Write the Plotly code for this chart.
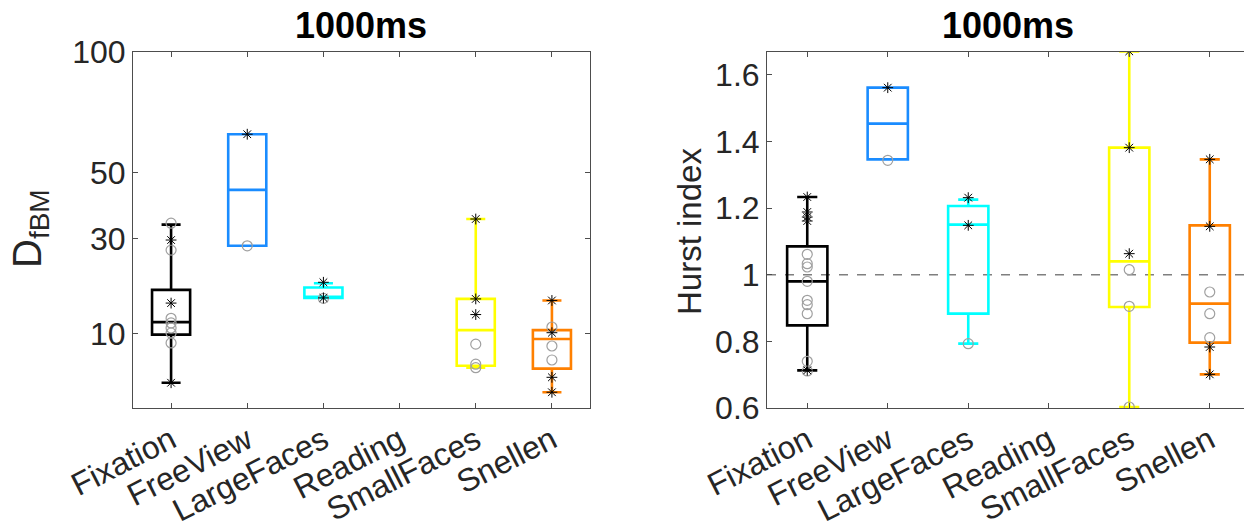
import numpy as np
import plotly.graph_objects as go

categories = ["Fixation", "FreeView", "LargeFaces", "Reading", "SmallFaces", "Snellen"]
colors = {"Fixation": "#000000", "FreeView": "#1a8cff", "LargeFaces": "#00ffff",
          "SmallFaces": "#ffff00", "Snellen": "#ff8000"}

# ---- Left panel: D_fBM (sqrt-scaled axis) ----
d_q1 = {"Fixation": 9.9, "FreeView": 28.1, "LargeFaces": 16.3, "SmallFaces": 5.73, "Snellen": 5.39}
d_med = {"Fixation": 11.9, "FreeView": 44.3, "LargeFaces": 16.3, "SmallFaces": 10.6, "Snellen": 9.25}
d_q3 = {"Fixation": 17.9, "FreeView": 64.1, "LargeFaces": 18.4, "SmallFaces": 16.1, "Snellen": 10.6}
d_lo = {"Fixation": 3.92, "FreeView": 28.1, "LargeFaces": 16.3, "SmallFaces": 5.5, "Snellen": 3.06}
d_hi = {"Fixation": 33.8, "FreeView": 64.1, "LargeFaces": 19.3, "SmallFaces": 35.4, "Snellen": 15.8}
d_star = {"Fixation": [29.6, 15.3, 3.92], "FreeView": [64.1], "LargeFaces": [19.5, 16.3],
          "SmallFaces": [35.4, 16.1, 13.2], "Snellen": [15.8, 10.2, 4.46, 3.06]}
d_circ = {"Fixation": [34.2, 27.0, 12.55, 11.76, 10.94, 10.15, 8.67], "FreeView": [28.1],
          "LargeFaces": [16.2], "SmallFaces": [8.5, 5.9, 5.5], "Snellen": [11.1, 8.24, 6.41]}
d_ticks = [10, 30, 50, 100]
d_range = [1.87, 100]

# ---- Right panel: Hurst index ----
h_q1 = {"Fixation": 0.848, "FreeView": 1.346, "LargeFaces": 0.883, "SmallFaces": 0.903, "Snellen": 0.796}
h_med = {"Fixation": 0.980, "FreeView": 1.453, "LargeFaces": 1.150, "SmallFaces": 1.040, "Snellen": 0.913}
h_q3 = {"Fixation": 1.085, "FreeView": 1.561, "LargeFaces": 1.206, "SmallFaces": 1.381, "Snellen": 1.148}
h_lo = {"Fixation": 0.713, "FreeView": 1.346, "LargeFaces": 0.793, "SmallFaces": 0.603, "Snellen": 0.701}
h_hi = {"Fixation": 1.233, "FreeView": 1.561, "LargeFaces": 1.225, "SmallFaces": 1.670, "Snellen": 1.346}
h_star = {"Fixation": [1.233, 1.188, 1.173, 1.161, 0.713], "FreeView": [1.561],
          "LargeFaces": [1.231, 1.148], "SmallFaces": [1.670, 1.381, 1.063],
          "Snellen": [1.346, 1.145, 0.783, 0.701]}
h_circ = {"Fixation": [1.061, 1.033, 1.023, 0.980, 0.923, 0.910, 0.883, 0.740, 0.711],
          "FreeView": [1.343], "LargeFaces": [0.793], "SmallFaces": [1.015, 0.905, 0.603],
          "Snellen": [0.948, 0.883, 0.811]}
h_ticks = [0.6, 0.8, 1.0, 1.2, 1.4, 1.6]
h_ticklabels = ["0.6", "0.8", "1", "1.2", "1.4", "1.6"]
h_range = [0.6, 1.668]
title_text = "1000ms"

FONT = "Liberation Sans, Arial, sans-serif"
TICKC = "#262626"
AXC = "#4d4d4d"

fig = go.Figure()

def add_panel(q1, med, q3, lo, hi, star, circ, tf, xa, ya):
    for i, c in enumerate(categories):
        if c not in q1:
            continue
        pos = i + 1
        fig.add_trace(go.Box(
            x=[pos], q1=[tf(q1[c])], median=[tf(med[c])], q3=[tf(q3[c])],
            lowerfence=[tf(lo[c])], upperfence=[tf(hi[c])],
            width=0.5, whiskerwidth=0.5, boxpoints=False,
            line=dict(color=colors[c], width=2.6), fillcolor="rgba(0,0,0,0)",
            xaxis=xa, yaxis=ya, showlegend=False, hoverinfo="skip"))
    for i, c in enumerate(categories):
        if c not in circ:
            continue
        pos = i + 1
        fig.add_trace(go.Scatter(
            x=[pos] * len(circ[c]), y=[tf(v) for v in circ[c]], mode="markers",
            marker=dict(symbol="circle-open", size=10, color="#a0a0a0",
                        line=dict(width=1.2, color="#a0a0a0")),
            xaxis=xa, yaxis=ya, showlegend=False, hoverinfo="skip"))
        fig.add_trace(go.Scatter(
            x=[pos] * len(star[c]), y=[tf(v) for v in star[c]], mode="markers",
            marker=dict(symbol="asterisk-open", size=9, color="#000000",
                        line=dict(width=1, color="#000000")),
            xaxis=xa, yaxis=ya, showlegend=False, hoverinfo="skip"))

add_panel(d_q1, d_med, d_q3, d_lo, d_hi, d_star, d_circ, np.sqrt, "x", "y")
add_panel(h_q1, h_med, h_q3, h_lo, h_hi, h_star, h_circ, lambda v: v, "x2", "y2")

W, H = 1244, 529
ydom = [(H - 408) / H, (H - 52) / H]

axis_common = dict(showline=True, linecolor=AXC, linewidth=1, ticks="inside", ticklen=5,
                   tickcolor=AXC, showgrid=False, zeroline=False, automargin=False,
                   tickfont=dict(family=FONT, size=32, color=TICKC))

fig.update_layout(
    width=W, height=H, margin=dict(l=0, r=0, t=0, b=0, pad=0, autoexpand=False),
    paper_bgcolor="white", plot_bgcolor="white", boxmode="overlay",
    xaxis=dict(domain=[133 / W, 590 / W], range=[0.5, 6.5], tickvals=list(range(1, 7)),
               ticktext=categories, tickangle=-27, mirror="ticks", anchor="y", **axis_common),
    yaxis=dict(domain=ydom, range=[float(np.sqrt(d_range[0])), float(np.sqrt(d_range[1]))],
               tickvals=[float(np.sqrt(t)) for t in d_ticks], ticktext=[str(t) for t in d_ticks],
               mirror="ticks", anchor="x", **axis_common),
    xaxis2=dict(domain=[767 / W, 1.0], range=[0.5, 0.5 + (1244 - 767) / 80.5],
                tickvals=list(range(1, 7)), ticktext=categories, tickangle=-27,
                mirror="ticks", anchor="y2", **axis_common),
    yaxis2=dict(domain=ydom, range=h_range, tickvals=h_ticks, ticktext=h_ticklabels,
                mirror=False, anchor="x2", **axis_common),
)

fig.add_shape(type="line", xref="x2 domain", yref="y2", x0=0, x1=1, y0=1, y1=1,
              line=dict(color="#7f7f7f", width=1.5, dash="dash"), layer="below")

fig.add_annotation(text="<b>" + title_text + "</b>", xref="paper", yref="paper",
                   x=361 / W, y=(H - 25) / H, showarrow=False, xanchor="center", yanchor="middle",
                   font=dict(family=FONT, size=36, color="#000000"))
fig.add_annotation(text="<b>" + title_text + "</b>", xref="paper", yref="paper",
                   x=1008 / W, y=(H - 25) / H, showarrow=False, xanchor="center", yanchor="middle",
                   font=dict(family=FONT, size=36, color="#000000"))
fig.add_annotation(text="D<sub>fBM</sub>", xref="paper", yref="paper",
                   x=30 / W, y=(H - 228) / H, showarrow=False, textangle=-90,
                   xanchor="center", yanchor="middle",
                   font=dict(family=FONT, size=40, color=TICKC))
fig.add_annotation(text="Hurst index", xref="paper", yref="paper",
                   x=690 / W, y=(H - 232) / H, showarrow=False, textangle=-90,
                   xanchor="center", yanchor="middle",
                   font=dict(family=FONT, size=33, color=TICKC))

fig.write_html("out.html")
